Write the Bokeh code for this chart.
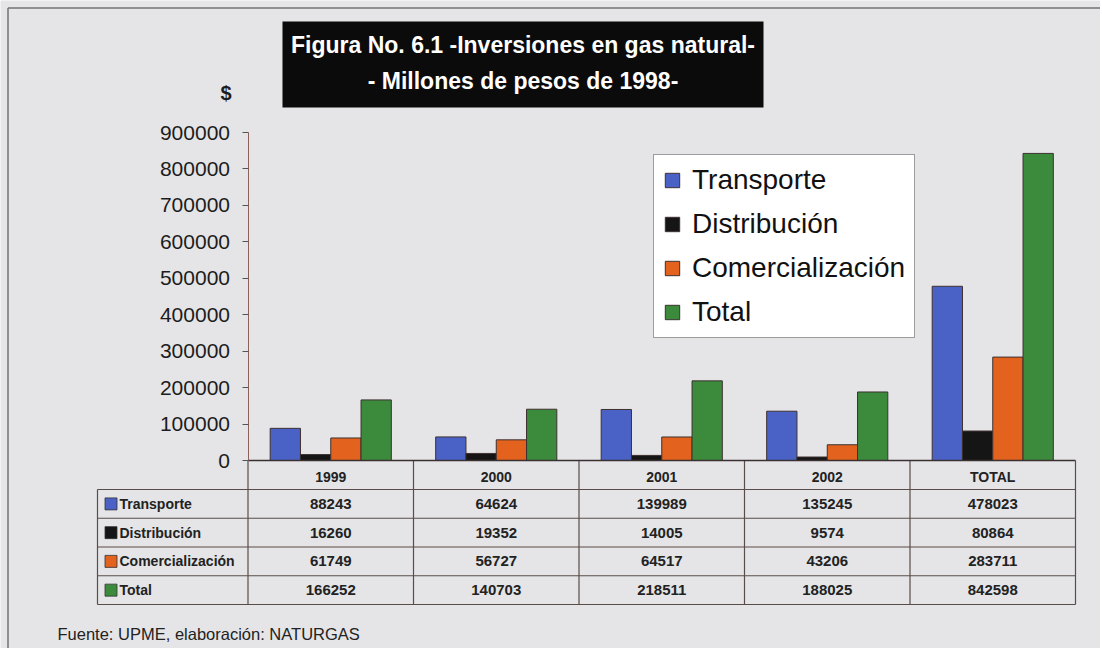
import numpy as np
from bokeh.plotting import figure
from bokeh.models import (Range1d, LinearAxis, FixedTicker, NumeralTickFormatter,
                          Legend, LegendItem)
from bokeh.core.properties import value
from bokeh.embed import file_html
from bokeh.resources import INLINE

# ---------------- data ----------------
categories = ["1999", "2000", "2001", "2002", "TOTAL"]
series_names = ["Transporte", "Distribución", "Comercialización", "Total"]
transporte = [88243, 64624, 139989, 135245, 478023]
distribucion = [16260, 19352, 14005, 9574, 80864]
comercializacion = [61749, 56727, 64517, 43206, 283711]
total = [166252, 140703, 218511, 188025, 842598]
y_ticks = [0, 100000, 200000, 300000, 400000, 500000, 600000, 700000, 800000, 900000]

title_lines = ["Figura No. 6.1 -Inversiones en gas natural-",
               "- Millones de pesos de 1998-"]
y_label = "$"
source_note = "Fuente: UPME, elaboración: NATURGAS"

series = [transporte, distribucion, comercializacion, total]
colors = ["#4a62c6", "#151515", "#e2621e", "#3c8a3c"]

# ---------------- layout (page pixels) ----------------
FONT = "Liberation Sans"
BG = "#e5e5e7"
W, H = 1100, 648
PAGE = 0
COL_L, COL_R = 247.5, 1075.0
AX0, AX_TOP = 460.0, 132.0
ppu_x = (COL_R - COL_L) / len(categories)
ppu_y = (AX0 - AX_TOP) / y_ticks[-1]


def dx(px):
    return -0.5 + (px - COL_L) / ppu_x


def dy(py):
    return (AX0 - py) / ppu_y


p = figure(width=W, height=H,
           x_range=Range1d(dx(PAGE), dx(PAGE + W)),
           y_range=Range1d(dy(PAGE + H), dy(PAGE)),
           x_axis_type=None, y_axis_type=None,
           toolbar_location=None, output_backend="svg",
           min_border=0, background_fill_color=BG, border_fill_color=BG,
           outline_line_color=None)

# frame border (top & left)
p.segment(x0=[dx(7.5), dx(7.5)], y0=[dy(7.5), dy(7.5)],
          x1=[dx(1102), dx(7.5)], y1=[dy(7.5), dy(652)],
          line_color="#707070", line_width=1.5)

# ---------------- bars ----------------
idx = np.arange(len(categories))
bw = 0.183
offsets = (np.arange(len(series)) - (len(series) - 1) / 2) * bw
renderers = []
for name, vals, col, off in zip(series_names, series, colors, offsets):
    r = p.vbar(x=idx + off, top=vals, bottom=0, width=bw,
               fill_color=col, line_color="#3d3030", line_width=1)
    renderers.append(r)

# ---------------- axes ----------------
yaxis = LinearAxis(fixed_location=-0.5, bounds=(0, y_ticks[-1]),
                   ticker=FixedTicker(ticks=y_ticks, minor_ticks=[]),
                   formatter=NumeralTickFormatter(format="0"))
yaxis.axis_line_color = "#8d6058"
yaxis.axis_line_width = 1
yaxis.major_tick_line_color = "#555555"
yaxis.major_tick_out = 6
yaxis.major_tick_in = 0
yaxis.minor_tick_line_color = None
yaxis.major_label_standoff = 12
yaxis.major_label_text_font = FONT
yaxis.major_label_text_font_size = "21px"
yaxis.major_label_text_color = "#1c1c1c"
p.add_layout(yaxis, "left")

xaxis = LinearAxis(fixed_location=0, bounds=(-0.5, len(categories) - 0.5),
                   ticker=FixedTicker(ticks=[float(i) for i in idx], minor_ticks=[]),
                   major_label_overrides={int(i): c for i, c in enumerate(categories)})
xaxis.axis_line_color = "#3a3030"
xaxis.axis_line_width = 1.5
xaxis.major_tick_line_color = None
xaxis.major_tick_out = 0
xaxis.major_tick_in = 0
xaxis.minor_tick_line_color = None
xaxis.major_label_standoff = 8
xaxis.major_label_text_font = FONT
xaxis.major_label_text_font_size = "14px"
xaxis.major_label_text_font_style = "bold"
xaxis.major_label_text_color = "#222222"
p.add_layout(xaxis, "below")

# ---------------- data table ----------------
row_edges = np.linspace(489, 604, len(series) + 1)
row_centers = (row_edges[:-1] + row_edges[1:]) / 2
TABLE_L = 97.0
LINE_C = "#5a4c48"

hx0 = [dx(TABLE_L)] * len(row_edges)
hx1 = [len(categories) - 0.5] * len(row_edges)
hy = [dy(v) for v in row_edges]
p.segment(x0=hx0, y0=hy, x1=hx1, y1=hy, line_color=LINE_C, line_width=1.2)

vx = list(np.arange(len(categories) + 1) - 0.5)
p.segment(x0=vx, y0=[dy(AX0)] * len(vx), x1=vx, y1=[dy(604)] * len(vx),
          line_color=LINE_C, line_width=1.2)
p.segment(x0=[dx(TABLE_L)], y0=[dy(row_edges[0])], x1=[dx(TABLE_L)], y1=[dy(604)],
          line_color=LINE_C, line_width=1.2)

tx, ty, tt = [], [], []
for vals, yc in zip(series, row_centers):
    for j, v in enumerate(vals):
        tx.append(float(j))
        ty.append(dy(yc))
        tt.append(str(v))
p.text(x=tx, y=ty, text=tt, text_align="center", text_baseline="middle",
       text_font=value(FONT), text_font_size=value("15px"), text_font_style="bold",
       text_color="#222222")

p.scatter(x=[dx(110.5)] * len(series), y=[dy(v) for v in row_centers],
          marker="square", size=12, fill_color=colors, line_color="#333333", line_width=0.8)
p.text(x=[dx(119)] * len(series), y=[dy(v) for v in row_centers], text=series_names,
       text_align="left", text_baseline="middle",
       text_font=value(FONT), text_font_size=value("14px"), text_font_style="bold",
       text_color="#222222")

# ---------------- title, labels ----------------
p.quad(left=[dx(282)], right=[dx(763)], top=[dy(21)], bottom=[dy(107)],
       fill_color="#0b0b0b", line_color=None)
p.text(x=[dx(522.5)] * 2, y=[dy(44), dy(80)], text=title_lines,
       text_align="center", text_baseline="middle",
       text_font=value(FONT), text_font_size=value("23px"), text_font_style="bold",
       text_color="white")

p.text(x=[dx(225.5)], y=[dy(92)], text=[y_label], text_align="center",
       text_baseline="middle", text_font=value(FONT), text_font_size=value("20px"),
       text_font_style="bold", text_color="#1c1c1c")

p.text(x=[dx(57)], y=[dy(633)], text=[source_note], text_align="left",
       text_baseline="middle", text_font=value(FONT), text_font_size=value("16.5px"),
       text_color="#222222")

# ---------------- legend ----------------
legend = Legend(items=[LegendItem(label=n, renderers=[r])
                       for n, r in zip(series_names, renderers)],
                location=(653 - PAGE, PAGE + H - 338))
legend.label_text_font = FONT
legend.label_text_font_size = "28px"
legend.label_text_color = "#111111"
legend.glyph_width = 18
legend.glyph_height = 18
legend.label_standoff = 11
legend.label_height = 30
legend.padding = 9
legend.spacing = 12
legend.margin = 0
legend.background_fill_color = "white"
legend.background_fill_alpha = 1
legend.border_line_color = "#3a3a3a"
legend.border_line_width = 1
p.add_layout(legend)

open("out.html", "w").write(file_html(p, INLINE))
